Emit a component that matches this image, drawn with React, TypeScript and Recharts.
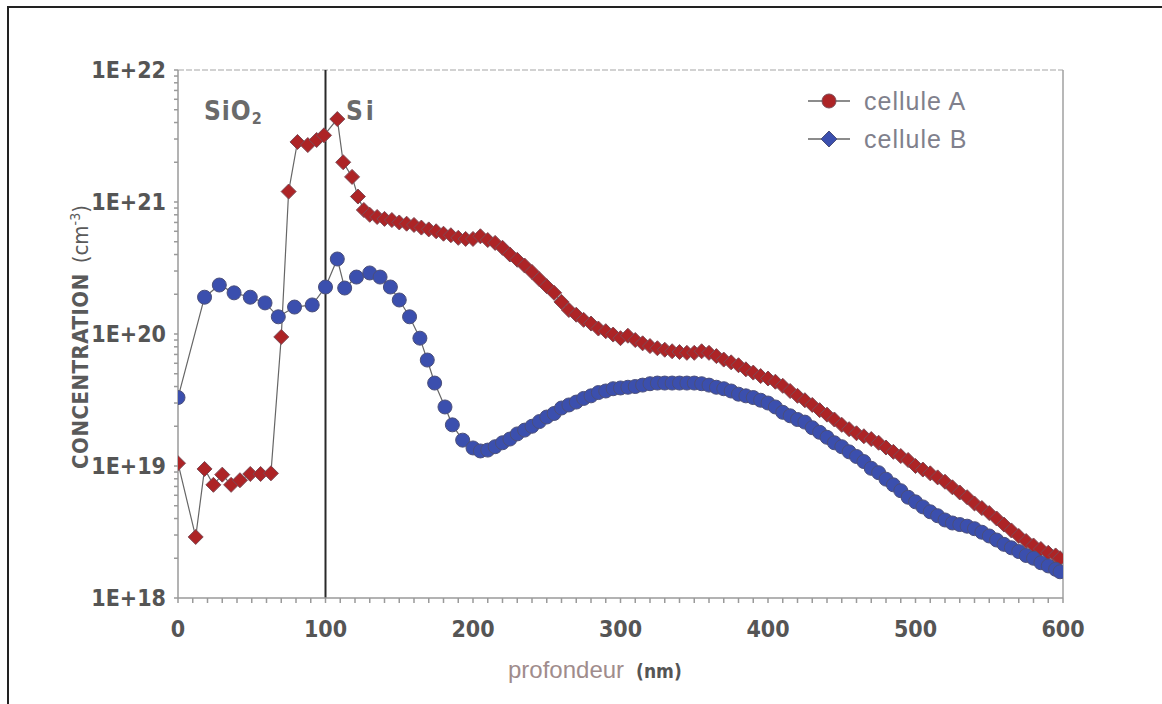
import { LineChart, Line, XAxis, YAxis, ReferenceLine } from 'recharts'

// profondeur (nm) et concentration (cm-3)
const depthA = [
  0, 12, 18, 24, 30, 36, 42, 49, 56, 63, 70, 75, 81, 88, 94, 99, 108, 112, 118, 122, 126,
  130, 135, 140, 145, 150, 155, 160, 165, 170, 175, 180, 185, 190, 195, 200, 205, 210, 215,
  220, 225, 230, 235, 240, 245, 250, 255, 260, 265, 270, 275, 280, 285, 290, 295, 300, 305,
  310, 315, 320, 325, 330, 335, 340, 345, 350, 355, 360, 365, 370, 375, 380, 385, 390, 395,
  400, 405, 410, 415, 420, 425, 430, 435, 440, 445, 450, 455, 460, 465, 470, 475, 480, 485,
  490, 495, 500, 505, 510, 515, 520, 525, 530, 535, 540, 545, 550, 555, 560, 565, 570, 575,
  580, 585, 590, 595, 598,
]
const concA = [
  1.05e19, 2.9e18, 9.5e18, 7.2e18, 8.6e18, 7.2e18, 7.8e18, 8.7e18, 8.7e18, 8.8e18, 9.5e19,
  1.2e21, 2.85e21, 2.7e21, 2.95e21, 3.2e21, 4.25e21, 2.0e21, 1.55e21, 1.1e21, 8.7e20,
  8.0e20, 7.7e20, 7.45e20, 7.3e20, 7.0e20, 6.85e20, 6.7e20, 6.4e20, 6.2e20, 6.0e20, 5.75e20,
  5.6e20, 5.35e20, 5.25e20, 5.25e20, 5.5e20, 5.15e20, 4.9e20, 4.5e20, 4.0e20, 3.65e20,
  3.3e20, 2.95e20, 2.6e20, 2.3e20, 2.05e20, 1.75e20, 1.52e20, 1.4e20, 1.28e20, 1.2e20,
  1.1e20, 1.05e20, 9.9e19, 9.3e19, 9.7e19, 9.0e19, 8.5e19, 8.1e19, 7.8e19, 7.6e19, 7.4e19,
  7.3e19, 7.2e19, 7.2e19, 7.4e19, 7.2e19, 6.8e19, 6.4e19, 6.1e19, 5.8e19, 5.4e19, 5.1e19,
  4.8e19, 4.6e19, 4.35e19, 4.05e19, 3.7e19, 3.4e19, 3.15e19, 2.9e19, 2.65e19, 2.45e19,
  2.25e19, 2.05e19, 1.9e19, 1.77e19, 1.68e19, 1.6e19, 1.5e19, 1.38e19, 1.28e19, 1.19e19,
  1.11e19, 1.0e19, 9.4e18, 8.8e18, 8.2e18, 7.6e18, 6.9e18, 6.3e18, 5.8e18, 5.2e18, 4.8e18,
  4.4e18, 4.0e18, 3.6e18, 3.25e18, 2.95e18, 2.7e18, 2.5e18, 2.35e18, 2.2e18, 2.1e18, 2.0e18,
]

const depthB = [
  0, 18, 28, 38, 49, 59, 68, 79, 91, 100, 108, 113, 121, 130, 137, 144, 150, 157, 164, 169,
  174, 181, 186, 193, 200, 205, 210, 215, 220, 225, 230, 235, 240, 245, 250, 255, 260, 265,
  270, 275, 280, 285, 290, 295, 300, 305, 310, 315, 320, 325, 330, 335, 340, 345, 350, 355,
  360, 365, 370, 375, 380, 385, 390, 395, 400, 405, 410, 415, 420, 425, 430, 435, 440, 445,
  450, 455, 460, 465, 470, 475, 480, 485, 490, 495, 500, 505, 510, 515, 520, 525, 530, 535,
  540, 545, 550, 555, 560, 565, 570, 575, 580, 585, 590, 595, 598,
]
const concB = [
  3.3e19, 1.9e20, 2.35e20, 2.05e20, 1.9e20, 1.72e20, 1.35e20, 1.6e20, 1.66e20, 2.27e20,
  3.7e20, 2.23e20, 2.7e20, 2.9e20, 2.7e20, 2.27e20, 1.81e20, 1.35e20, 9.3e19, 6.35e19,
  4.25e19, 2.8e19, 2.05e19, 1.57e19, 1.37e19, 1.3e19, 1.32e19, 1.4e19, 1.5e19, 1.6e19,
  1.75e19, 1.87e19, 2.0e19, 2.17e19, 2.35e19, 2.5e19, 2.75e19, 2.9e19, 3.05e19, 3.25e19,
  3.4e19, 3.6e19, 3.7e19, 3.85e19, 3.9e19, 3.95e19, 4.0e19, 4.1e19, 4.2e19, 4.25e19,
  4.25e19, 4.25e19, 4.25e19, 4.25e19, 4.25e19, 4.2e19, 4.1e19, 3.95e19, 3.85e19, 3.7e19,
  3.5e19, 3.4e19, 3.3e19, 3.15e19, 3.0e19, 2.8e19, 2.55e19, 2.4e19, 2.25e19, 2.15e19,
  1.95e19, 1.8e19, 1.65e19, 1.5e19, 1.4e19, 1.28e19, 1.18e19, 1.08e19, 9.6e18, 8.9e18,
  7.95e18, 7.2e18, 6.5e18, 5.8e18, 5.35e18, 4.9e18, 4.5e18, 4.2e18, 3.9e18, 3.7e18, 3.6e18,
  3.5e18, 3.35e18, 3.15e18, 2.95e18, 2.75e18, 2.55e18, 2.4e18, 2.25e18, 2.1e18, 2.0e18,
  1.85e18, 1.75e18, 1.65e18, 1.58e18,
]

const xTicks = [
  0, 10, 20, 30, 40, 50, 60, 70, 80, 90, 100, 110, 120, 130, 140, 150, 160, 170, 180, 190,
  200, 210, 220, 230, 240, 250, 260, 270, 280, 290, 300, 310, 320, 330, 340, 350, 360, 370,
  380, 390, 400, 410, 420, 430, 440, 450, 460, 470, 480, 490, 500, 510, 520, 530, 540, 550,
  560, 570, 580, 590, 600,
]
const xLabels = [0, 100, 200, 300, 400, 500, 600]
const yTicks = [
  1e18, 2e18, 3e18, 4e18, 5e18, 6e18, 7e18, 8e18, 9e18,
  1e19, 2e19, 3e19, 4e19, 5e19, 6e19, 7e19, 8e19, 9e19,
  1e20, 2e20, 3e20, 4e20, 5e20, 6e20, 7e20, 8e20, 9e20,
  1e21, 2e21, 3e21, 4e21, 5e21, 6e21, 7e21, 8e21, 9e21,
  1e22,
]
const yLabels = ['1E+18', '1E+19', '1E+20', '1E+21', '1E+22']
const seriesNames = ['cellule A', 'cellule B']

const dataA = depthA.map((d, i) => ({ depth: d, conc: concA[i] }))
const dataB = depthB.map((d, i) => ({ depth: d, conc: concB[i] }))

const RED = '#ad2426'
const BLUE = '#3b4fae'
const tickFont = "'Liberation Sans Narrow', 'Arial Narrow', 'DejaVu Sans Condensed', 'Liberation Sans', Arial, sans-serif"

function diamondDot(props: any) {
  const { cx, cy, index } = props
  if (cx == null || cy == null) return <g key={`a-${index}`} />
  const s = 7.5
  return (
    <polygon
      key={`a-${index}`}
      points={`${cx},${cy - s} ${cx + s},${cy} ${cx},${cy + s} ${cx - s},${cy}`}
      fill={RED}
      stroke="#7d4a55"
      strokeWidth={1}
    />
  )
}

function circleDot(props: any) {
  const { cx, cy, index } = props
  if (cx == null || cy == null) return <g key={`b-${index}`} />
  return <circle key={`b-${index}`} cx={cx} cy={cy} r={7} fill={BLUE} stroke="#4b4f7a" strokeWidth={1} />
}

function yFormat(v: number) {
  const e = Math.round(Math.log10(v))
  if (Math.abs(Math.pow(10, e) - v) / v > 1e-6) return ''
  return yLabels[e - 18]
}

function xFormat(v: number) {
  return xLabels.includes(v) ? String(v) : ''
}

export default function App() {
  return (
    <div style={{ position: 'absolute', left: 0, top: 0, width: 1162, height: 704, background: '#fff', overflow: 'hidden' }}>
      <div style={{ position: 'absolute', left: 7, top: 6, width: 1170, height: 710, borderLeft: '2px solid #222', borderTop: '2px solid #222' }} />
      <LineChart width={1162} height={704} margin={{ top: 70, right: 99, bottom: 76, left: 118 }}>
        <XAxis
          type="number"
          dataKey="depth"
          domain={[0, 600]}
          ticks={xTicks}
          interval={0}
          tickFormatter={xFormat}
          allowDataOverflow
          height={30}
          stroke="#9a9a9a"
          strokeWidth={1.5}
          tickSize={5}
          tickMargin={18}
          tick={{ fill: '#555', fontSize: 23, fontWeight: 700, fontFamily: tickFont }}
        />
        <YAxis
          type="number"
          dataKey="conc"
          scale="log"
          domain={[1e18, 1e22]}
          ticks={yTicks}
          interval={0}
          tickFormatter={yFormat}
          allowDataOverflow
          width={60}
          stroke="#9a9a9a"
          strokeWidth={1.5}
          tickSize={4}
          tickMargin={8}
          tick={{ fill: '#555', fontSize: 23, fontWeight: 700, fontFamily: tickFont }}
        />
        <ReferenceLine y={1e22} stroke="#c4c4c4" strokeWidth={1.5} strokeDasharray="6 2" />
        <ReferenceLine x={600} stroke="#a0a0a0" strokeWidth={1.5} />
        <ReferenceLine x={100} stroke="#2a2a2a" strokeWidth={2} />
        <Line
          data={dataA}
          dataKey="conc"
          name={seriesNames[0]}
          stroke="#666"
          strokeWidth={1.2}
          dot={diamondDot}
          activeDot={false}
          isAnimationActive={false}
        />
        <Line
          data={dataB}
          dataKey="conc"
          name={seriesNames[1]}
          stroke="#666"
          strokeWidth={1.2}
          dot={circleDot}
          activeDot={false}
          isAnimationActive={false}
        />
      </LineChart>

      {/* zones */}
      <div style={{ position: 'absolute', left: 204, top: 96, fontFamily: tickFont, fontWeight: 700, fontSize: 26, letterSpacing: 1, color: '#6a6a6a' }}>
        SiO<sub style={{ fontSize: 16, verticalAlign: -4 }}>2</sub>
      </div>
      <div style={{ position: 'absolute', left: 346, top: 96, fontFamily: tickFont, fontWeight: 700, fontSize: 26, letterSpacing: 3, color: '#6a6a6a' }}>
        Si
      </div>

      {/* légende */}
      {seriesNames.map((name, i) => (
        <div key={name} style={{ position: 'absolute', left: 806, top: 88 + i * 38, display: 'flex', alignItems: 'center', height: 26 }}>
          <svg width={46} height={26}>
            <line x1={2} y1={13} x2={44} y2={13} stroke="#666" strokeWidth={1.5} />
            {i === 0 ? (
              <circle cx={23} cy={13} r={7} fill={RED} stroke="#7d4a55" />
            ) : (
              <polygon points="23,5 31,13 23,21 15,13" fill={BLUE} stroke="#4b4f7a" />
            )}
          </svg>
          <span style={{ marginLeft: 12, fontFamily: "'Liberation Sans', Arial, sans-serif", fontSize: 25, letterSpacing: 1, color: '#80808c' }}>{name}</span>
        </div>
      ))}

      {/* titre axe Y */}
      <div
        style={{
          position: 'absolute',
          left: 80,
          top: 337,
          transform: 'translate(-50%, -50%) rotate(-90deg)',
          whiteSpace: 'nowrap',
          fontFamily: tickFont,
          fontSize: 22,
          color: '#5a5a5a',
        }}
      >
        <span style={{ fontWeight: 700, letterSpacing: 0.5 }}>CONCENTRATION</span>
        <span style={{ marginLeft: 10 }}>(cm<sup style={{ fontSize: 14 }}>-3</sup>)</span>
      </div>

      {/* titre axe X */}
      <div style={{ position: 'absolute', left: 508, top: 656, whiteSpace: 'nowrap', display: 'flex', alignItems: 'baseline' }}>
        <span style={{ fontFamily: "'Liberation Sans', Arial, sans-serif", fontSize: 24, color: '#a08c8c' }}>profondeur</span>
        <span style={{ marginLeft: 12, fontFamily: tickFont, fontWeight: 700, fontSize: 19, color: '#555' }}>(nm)</span>
      </div>
    </div>
  )
}
